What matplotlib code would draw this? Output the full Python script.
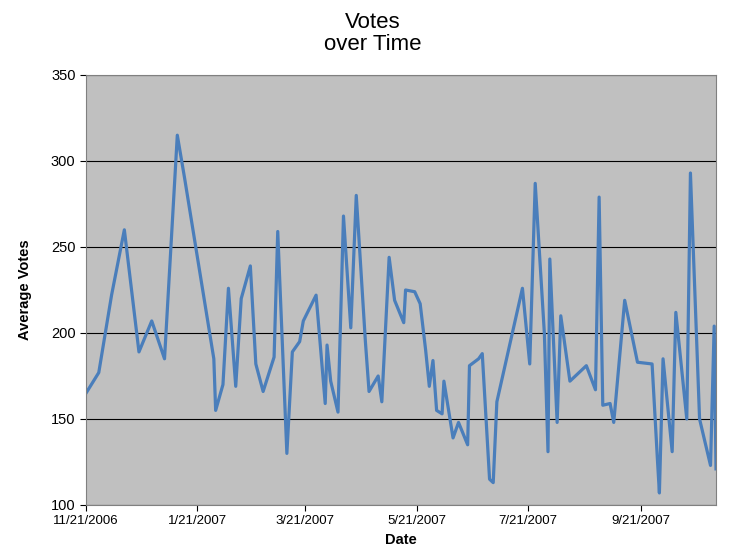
import pandas as pd
import matplotlib.pyplot as plt

plt.rcParams['font.family'] = 'Liberation Sans'

start = pd.Timestamp('2006-11-21')
day_offsets = [0, 7, 14, 21, 29, 36, 43, 50, 54, 70, 71, 75, 78, 82, 85, 90, 93, 97, 103, 105,
               110, 113, 117, 119, 126, 131, 132, 134, 138, 141, 145, 148, 153, 155, 160, 162,
               166, 169, 174, 175, 180, 183, 186, 188, 190, 192, 195, 196, 201, 204, 209, 210,
               215, 217, 221, 223, 225, 239, 243, 246, 251, 253, 254, 258, 260, 265, 274, 279,
               281, 283, 287, 289, 295, 302, 310, 313, 314, 316, 321, 323, 329, 331, 336, 342,
               344, 345]
votes = [165, 177, 222, 260, 189, 207, 185, 315, 290, 185, 155, 170, 226, 169, 220, 239, 182,
         166, 186, 259, 130, 189, 195, 207, 222, 159, 193, 172, 154, 268, 203, 280, 195, 166,
         175, 160, 244, 219, 206, 225, 224, 217, 190, 169, 184, 155, 153, 172, 139, 148, 135,
         181, 185, 188, 115, 113, 160, 226, 182, 287, 200, 131, 243, 148, 210, 172, 181, 167,
         279, 158, 159, 148, 219, 183, 182, 125, 107, 185, 131, 212, 150, 293, 150, 123, 204, 121]
tick_dates = ['2006-11-21', '2007-01-21', '2007-03-21', '2007-05-21', '2007-07-21', '2007-09-21']

dates = [start + pd.Timedelta(days=d) for d in day_offsets]

fig = plt.figure(figsize=(7.46, 5.6), dpi=100, facecolor='white')
ax = fig.add_axes([86/746, 55/560, 630/746, 430/560])
ax.set_facecolor('#C0C0C0')
ax.plot(dates, votes, color='#4A7EBB', linewidth=2.3)

ticks = [pd.Timestamp(t) for t in tick_dates]
ax.set_xticks(ticks)
ax.set_xticklabels([f'{t.month}/{t.day}/{t.year}' for t in ticks], fontsize=9.5)
ax.set_xlim(start, start + pd.Timedelta(days=345))
ax.set_ylim(100, 350)
ax.set_yticks(range(100, 351, 50))
ax.tick_params(axis='y', labelsize=10.5, length=4)
ax.tick_params(axis='x', length=4)
ax.grid(axis='y', color='black', linewidth=0.8)
ax.set_axisbelow(True)
for s in ax.spines.values():
    s.set_color('#808080')

ax.set_xlabel('Date', fontsize=10.5, fontweight='bold', labelpad=4)
ax.set_ylabel('Average Votes', fontsize=10.5, fontweight='bold', labelpad=14)
fig.text(0.5, 1 - 55/560, 'Votes\nover Time', ha='center', va='bottom', fontsize=16, linespacing=1.05)

plt.savefig('out.png', dpi=100)
